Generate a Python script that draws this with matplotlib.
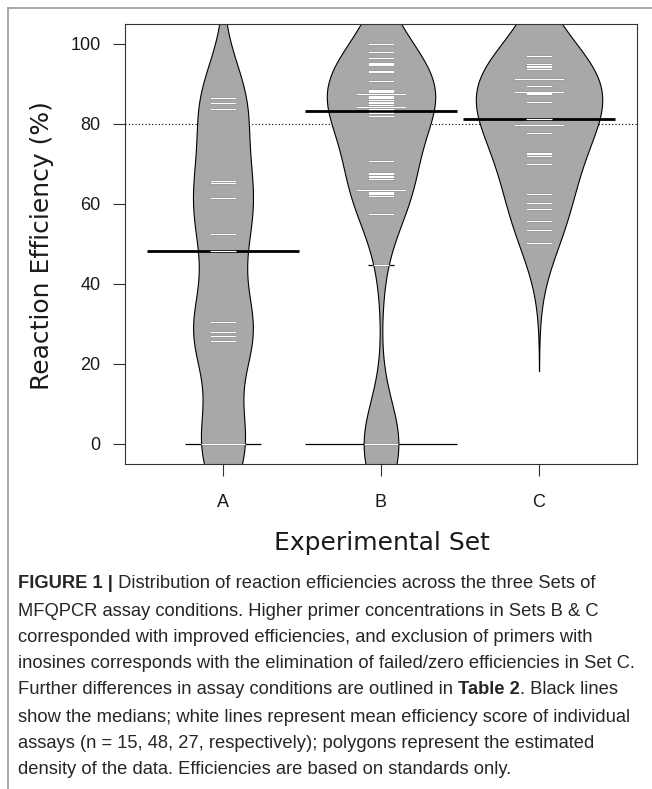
import matplotlib
matplotlib.use("Agg")
import matplotlib.pyplot as plt
from matplotlib.lines import Line2D
import numpy as np

# reaction efficiency (%) of the individual assays
set_a = [0, 0, 0, 25.8, 27.1, 28.1, 30.5, 48.3, 52.4, 61.6, 65.3, 65.7,
         83.7, 85.3, 86.6]
set_b = [0, 0, 0, 0, 0, 0, 0, 0,
         44.75, 57.4, 62.0, 62.4, 62.8, 63.0, 63.5, 63.5, 66.25, 66.7, 67.1,
         67.4, 67.8, 70.75,
         82.1, 82.7,
         83.8, 84.3, 84.3, 84.8, 85.2, 85.6, 86.0, 86.4, 86.8, 87.0, 87.4, 87.4,
         87.9, 88.3, 88.5, 90.75, 93.0, 93.25, 94.7, 95.0, 95.2, 96.6, 97.9, 99.9]
set_c = [50.3, 53.5, 55.75, 58.7, 60.3, 62.5, 69.9, 72.0, 72.4, 72.8, 77.8,
         79.75, 79.75, 81.25, 85.4, 87.4, 87.8, 88.0, 88.0, 89.5, 91.3, 91.3,
         93.7, 94.3, 94.6, 94.9, 97.1]
set_names = ["A", "B", "C"]
ref_line = 80
y_ticks = [0, 20, 40, 60, 80, 100]

caption = [
    [("FIGURE 1 |", True), (" Distribution of reaction efficiencies across the three Sets of", False)],
    [("MFQPCR assay conditions. Higher primer concentrations in Sets B & C", False)],
    [("corresponded with improved efficiencies, and exclusion of primers with", False)],
    [("inosines corresponds with the elimination of failed/zero efficiencies in Set C.", False)],
    [("Further differences in assay conditions are outlined in ", False), ("Table 2", True), (". Black lines", False)],
    [("show the medians; white lines represent mean efficiency score of individual", False)],
    [("assays (n = 15, 48, 27, respectively); polygons represent the estimated", False)],
    [("density of the data. Efficiencies are based on standards only.", False)],
]

# beanplot-like settings
bw = 10.7          # common gaussian bandwidth
cut = 3            # density drawn up to 3 bandwidths past the data
max_half = 0.4     # widest bean half width (x units)
ll = 0.16          # length of one beanline
max_line = 0.96    # longest beanline / median line

sets = [set_a, set_b, set_c]
positions = np.arange(1, len(sets) + 1)

dens = []
for vals in sets:
    v = np.asarray(vals, dtype=float)
    y = np.linspace(v.min() - cut * bw, v.max() + cut * bw, 600)
    d = np.exp(-0.5 * ((y[:, None] - v[None, :]) / bw) ** 2).sum(axis=1)
    d = d / (len(v) * bw * np.sqrt(2 * np.pi))
    dens.append((y, d))
scale = max_half / max(d.max() for _, d in dens)

fig = plt.figure(figsize=(6.52, 7.89), dpi=100)
ax = fig.add_axes([125 / 652, 1 - 464 / 789, 512 / 652, 440 / 789])

ax.axhline(ref_line, color="black", lw=0.8, ls=(0, (1, 2)), zorder=1)

for pos, vals, (y, d) in zip(positions, sets, dens):
    w = d * scale
    ax.fill_betweenx(y, pos - w, pos + w, facecolor="#a8a8a8", edgecolor="black",
                     lw=0.8, zorder=2)

    med = np.median(vals)
    ax.plot([pos - max_line / 2, pos + max_line / 2], [med, med], color="black",
            lw=2.0, solid_capstyle="butt", zorder=3)

    u, cnt = np.unique(vals, return_counts=True)
    for val, c in zip(u, cnt):
        half = min(ll * c, max_line) / 2
        inner = min(half, np.interp(val, y, w))
        ax.plot([pos - half, pos + half], [val, val], color="black", lw=0.9,
                solid_capstyle="butt", zorder=4)
        ax.plot([pos - inner, pos + inner], [val, val], color="white", lw=0.9,
                solid_capstyle="butt", zorder=5)

ax.set_xlim(0.38, 3.62)
ax.set_ylim(-5, 105)
ax.set_xticks(positions)
ax.set_xticklabels(set_names)
ax.set_yticks(y_ticks)
ax.set_yticklabels([str(t) for t in y_ticks])
for lab in ax.get_xticklabels() + ax.get_yticklabels():
    lab.set_fontfamily("Liberation Sans")
    lab.set_fontsize(13)
    lab.set_color("#1a1a1a")
ax.tick_params(axis="both", direction="out", length=8.5, width=0.8, color="#333333")
ax.tick_params(axis="x", pad=13)
ax.tick_params(axis="y", pad=9)
for sp in ax.spines.values():
    sp.set_color("#333333")
    sp.set_linewidth(0.8)

fig.text(42 / 652, 1 - 246 / 789, "Reaction Efficiency (%)", rotation=90,
         ha="center", va="center", fontsize=18, family="DejaVu Sans", color="#1a1a1a")
fig.text(382 / 652, 1 - 543 / 789, "Experimental Set", ha="center", va="center",
         fontsize=18, family="DejaVu Sans", color="#1a1a1a")

# frame around the figure panel (top and left edges)
fig.add_artist(Line2D([8 / 652, 1], [1 - 8 / 789] * 2, transform=fig.transFigure,
                      color="#9a9a9a", lw=1.2))
fig.add_artist(Line2D([8 / 652] * 2, [0, 1 - 8 / 789], transform=fig.transFigure,
                      color="#9a9a9a", lw=1.2))

# caption, bold pieces placed one after another
renderer = fig.canvas.get_renderer()
line_y = [584, 611, 638, 664, 690, 717, 744, 770]
for yy, parts in zip(line_y, caption):
    x = 18 / 652
    for txt, bold in parts:
        t = fig.text(x, 1 - yy / 789, txt, ha="left", va="center", fontsize=13.2,
                     family="Liberation Sans", weight="bold" if bold else "normal",
                     color="#262626")
        bb = t.get_window_extent(renderer)
        x += bb.width / fig.bbox.width

fig.savefig("out.png", dpi=100)
